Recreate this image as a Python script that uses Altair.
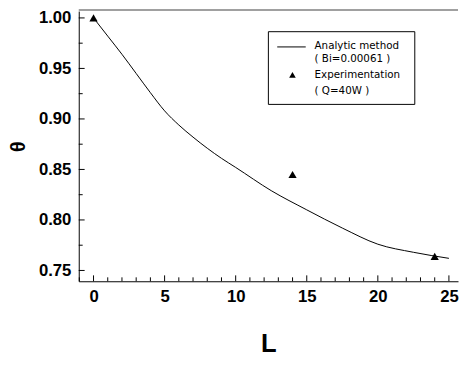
import altair as alt
import pandas as pd

# Analytic curve (Bi=0.00061)
curve_L = [0, 1, 2, 3, 4, 5, 6, 7, 8, 9, 10, 12.5, 15, 17.5, 20, 22.5, 25]
curve_theta = [1.0, 0.982, 0.964, 0.945, 0.926, 0.908, 0.894, 0.882, 0.871, 0.861, 0.852,
               0.829, 0.810, 0.792, 0.776, 0.768, 0.762]

# Experimentation (Q=40W)
exp_L = [0, 14, 24]
exp_theta = [1.0, 0.845, 0.764]

x_major = [0, 5, 10, 15, 20, 25]
x_minor = [v for v in range(-1, 26) if v % 5 != 0]
y_major = [0.75, 0.80, 0.85, 0.90, 0.95, 1.00]
y_minor = [0.775, 0.825, 0.875, 0.925, 0.975]

legend_lines = ["Analytic method", "( Bi=0.00061 )", "Experimentation", "( Q=40W )"]

W, H = 386, 275
FONT = "Liberation Sans"
LFONT = "DejaVu Sans"

xscale = alt.Scale(domain=[-1.04, 25.64], nice=False, zero=False)
yscale = alt.Scale(domain=[0.7393, 1.0068], nice=False, zero=False)
xaxis = alt.Axis(values=x_major, title="L", grid=False, ticks=False,
                 domainColor="black", domainWidth=1,
                 labelFont=FONT, labelFontSize=17, labelFontWeight="bold", labelColor="black",
                 labelPadding=8, titleFont=FONT, titleFontSize=26, titleFontWeight="bold",
                 titleColor="black", titlePadding=26)
yaxis = alt.Axis(values=y_major, title="θ", format=".2f", grid=False, ticks=False,
                 domainColor="black", domainWidth=1,
                 labelFont=FONT, labelFontSize=17, labelFontWeight="bold", labelColor="black",
                 labelPadding=8, titleFont=FONT, titleFontSize=20, titleFontWeight="bold",
                 titleColor="black", titlePadding=10)

X = lambda: alt.X("L:Q", scale=xscale, axis=xaxis)
Y = lambda: alt.Y("theta:Q", scale=yscale, axis=yaxis)

curve_df = pd.DataFrame({"L": curve_L, "theta": curve_theta})
exp_df = pd.DataFrame({"L": exp_L, "theta": exp_theta})

curve = alt.Chart(curve_df).mark_line(color="black", strokeWidth=1, interpolate="monotone").encode(x=X(), y=Y())
points = alt.Chart(exp_df).mark_point(shape="triangle-up", filled=True, color="black", size=70, opacity=1).encode(x=X(), y=Y())

ymaj = alt.Chart(pd.DataFrame({"theta": y_major})).mark_rule(color="black").encode(
    y=Y(), x=alt.value(0), x2=alt.value(6))
ymin = alt.Chart(pd.DataFrame({"theta": y_minor})).mark_rule(color="black").encode(
    y=Y(), x=alt.value(0), x2=alt.value(4))
xmaj = alt.Chart(pd.DataFrame({"L": x_major})).mark_rule(color="black").encode(
    x=X(), y=alt.value(H), y2=alt.value(H - 6))
xmin = alt.Chart(pd.DataFrame({"L": x_minor})).mark_rule(color="black").encode(
    x=X(), y=alt.value(H), y2=alt.value(H - 4))

top = alt.Chart(pd.DataFrame({"a": [0]})).mark_rule(color="#808080", strokeWidth=1.5).encode(
    x=alt.value(0), x2=alt.value(W), y=alt.value(-1))

# legend
box = alt.Chart(pd.DataFrame({"a": [0]})).mark_rect(fill="white", stroke="black", strokeWidth=1).encode(
    x=alt.value(193), x2=alt.value(342), y=alt.value(21), y2=alt.value(95))
lg_line = alt.Chart(pd.DataFrame({"a": [0]})).mark_rule(color="black", strokeWidth=1).encode(
    x=alt.value(202), x2=alt.value(231), y=alt.value(36.5))
lg_tri = alt.Chart(pd.DataFrame({"a": [0]})).mark_point(shape="triangle-up", filled=True, color="black", size=45, opacity=1).encode(
    x=alt.value(217.5), y=alt.value(65))
lg_texts = []
for txt, yy in zip(legend_lines, [36, 48.5, 65, 81]):
    lg_texts.append(
        alt.Chart(pd.DataFrame({"a": [0]})).mark_text(
            align="left", baseline="middle", font=LFONT, fontSize=10.5, color="black"
        ).encode(x=alt.value(240), y=alt.value(yy), text=alt.value(txt))
    )

chart = alt.layer(curve, points, ymaj, ymin, xmaj, xmin, top, box, lg_line, lg_tri, *lg_texts).properties(
    width=W, height=H,
    autosize=alt.AutoSizeParams(type="none"),
    padding={"left": 72, "top": 0, "right": 1, "bottom": 76},
).configure_view(strokeWidth=0)

chart.save("out.html", embed_options={"renderer": "svg", "actions": False})
